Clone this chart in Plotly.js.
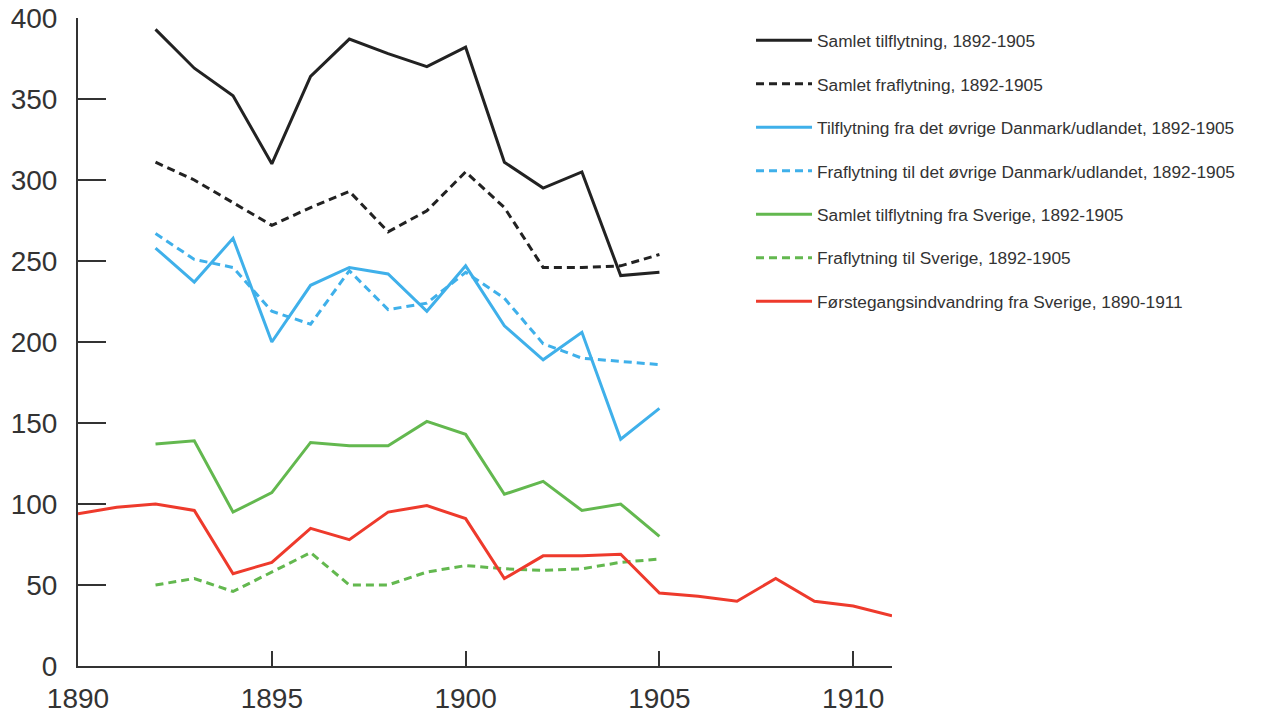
<!DOCTYPE html>
<html>
<head>
<meta charset="utf-8">
<script src="https://cdn.plot.ly/plotly-3.0.1.min.js"></script>
<style>html,body{margin:0;padding:0;background:#fff;}#chart{width:1280px;height:714px;}</style>
</head>
<body>
<div id="chart"></div>
<script>
const years9205 = [1892,1893,1894,1895,1896,1897,1898,1899,1900,1901,1902,1903,1904,1905];
const years9011 = [1890,1891,1892,1893,1894,1895,1896,1897,1898,1899,1900,1901,1902,1903,1904,1905,1906,1907,1908,1909,1910,1911];

const samletTilflytning = [393,369,352,310,364,387,378,370,382,311,295,305,241,243];
const samletFraflytning = [311,300,286,272,283,293,268,281,305,283,246,246,247,254];
const tilDanmark = [258,237,264,200,235,246,242,219,247,210,189,206,140,159];
const fraDanmark = [267,251,246,219,211,244,220,224,243,227,199,190,188,186];
const tilSverige = [137,139,95,107,138,136,136,151,143,106,114,96,100,80];
const fraSverige = [50,54,46,58,70,50,50,58,62,60,59,60,64,66];
const forstegang = [94,98,100,96,57,64,85,78,95,99,91,54,68,68,69,45,43,40,54,40,37,31];

const names = [
  "Samlet tilflytning, 1892-1905",
  "Samlet fraflytning, 1892-1905",
  "Tilflytning fra det øvrige Danmark/udlandet, 1892-1905",
  "Fraflytning til det øvrige Danmark/udlandet, 1892-1905",
  "Samlet tilflytning fra Sverige, 1892-1905",
  "Fraflytning til Sverige, 1892-1905",
  "Førstegangsindvandring fra Sverige, 1890-1911"
];

const black = "#222222", blue = "#3fb0ea", green = "#63b84f", red = "#ee3a2c";
const dashPat = "8px,5px";

function tr(x, y, name, color, dash, g) {
  return {x: x, y: y, name: name, type: "scatter", mode: "lines",
    line: {color: color, width: 3, dash: dash}, legendgroup: g, hoverinfo: "x+y"};
}

const data = [
  tr(years9205, samletTilflytning, names[0], black, "solid", "a"),
  tr(years9205, samletFraflytning, names[1], black, dashPat, "b"),
  tr(years9205, tilDanmark, names[2], blue, "solid", "c"),
  tr(years9205, fraDanmark, names[3], blue, dashPat, "d"),
  tr(years9205, tilSverige, names[4], green, "solid", "e"),
  tr(years9205, fraSverige, names[5], green, dashPat, "f"),
  tr(years9011, forstegang, names[6], red, "solid", "g")
];

const layout = {
  width: 1280, height: 714,
  margin: {l: 78, r: 388, t: 18, b: 48},
  paper_bgcolor: "#ffffff", plot_bgcolor: "#ffffff",
  font: {family: "Liberation Sans, Arial, sans-serif", color: "#333333"},
  showlegend: true,
  legend: {x: 0.8268, y: 0.993, xanchor: "left", yanchor: "top",
    font: {size: 17.3, color: "#333333"}, tracegroupgap: 18,
    bgcolor: "rgba(0,0,0,0)", itemwidth: 56, traceorder: "grouped"},
  xaxis: {range: [1890, 1911], tickmode: "array", tickvals: [1890,1895,1900,1905,1910],
    showgrid: false, zeroline: false, showline: true, linecolor: "#333333", linewidth: 2,
    ticks: "inside", ticklen: 15, tickwidth: 2, tickcolor: "#333333",
    tickfont: {size: 28, color: "#333333"}, ticklabelstandoff: 6},
  yaxis: {range: [0, 400], tickmode: "array", tickvals: [0,50,100,150,200,250,300,350,400],
    showgrid: false, zeroline: false, showline: true, linecolor: "#333333", linewidth: 2,
    ticks: "inside", ticklen: 28, tickwidth: 2, tickcolor: "#333333",
    tickfont: {size: 28, color: "#333333"}, ticklabelstandoff: 13}
};

Plotly.newPlot("chart", data, layout, {displayModeBar: false});
</script>
</body>
</html>
